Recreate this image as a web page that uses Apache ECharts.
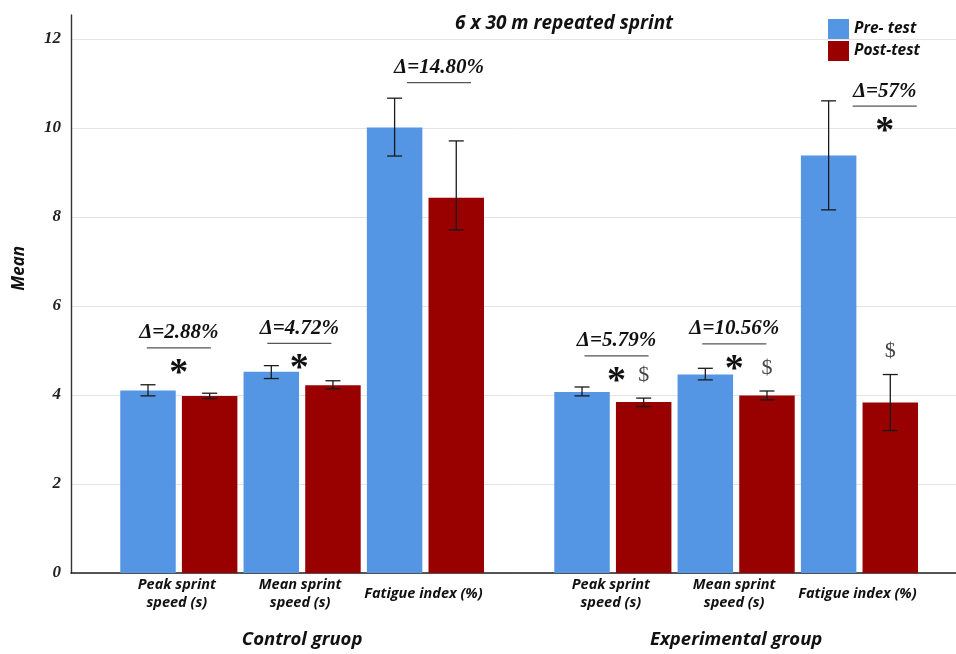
<!DOCTYPE html>
<html><head><meta charset="utf-8">
<script src="https://cdn.jsdelivr.net/npm/echarts@6/dist/echarts.min.js"></script>
<style>html,body{margin:0;padding:0;background:#fff}#c{width:956px;height:654px}</style>
</head><body><div id="c"></div>
<script>
// ---------- DATA ----------
const groups = ['Control gruop', 'Experimental group'];
const measures = ['Peak sprint\nspeed (s)', 'Mean sprint\nspeed (s)', 'Fatigue index (%)'];
const seriesNames = ['Pre- test', 'Post-test'];
const preMean  = [4.10, 4.52, 10.01, 4.07, 4.46, 9.38];
const preLow   = [3.98, 4.37, 9.37, 3.98, 4.34, 8.16];
const preHigh  = [4.23, 4.66, 10.67, 4.18, 4.60, 10.61];
const postMean = [3.98, 4.22, 8.43, 3.84, 3.99, 3.83];
const postLow  = [3.92, 4.14, 7.71, 3.74, 3.89, 3.20];
const postHigh = [4.04, 4.32, 9.71, 3.93, 4.09, 4.46];
const deltaLabels = ['Δ=2.88%', 'Δ=4.72%', 'Δ=14.80%', 'Δ=5.79%', 'Δ=10.56%', 'Δ=57%'];
const starMarks   = [true, true, false, true, true, true];
const dollarMarks = [false, false, false, true, true, true];
const yTickStep = 2;
const yTickMax = 12;
const titleText = '6 x 30 m repeated sprint';
const yAxisTitle = 'Mean';

// ---------- LAYOUT ----------
const EXP_START = 7.04;
const BAR_W = 0.9;
const X_MIN = -1.249, X_MAX = 13.106;
const ANN_XOFF = [0, -0.045, 0.22, 0.06, -0.03, 0.41];
const ANN_LEVEL = [5.06, 5.16, 11.02, 4.88, 5.15, 10.49];
const BLUE = '#5596E4', RED = '#990000';
const SANS = '"Open Sans", sans-serif';
const SERIF = '"Liberation Serif", serif';

function preSlot(i){ return i < 3 ? 2*i : EXP_START + 2*(i-3); }
function postSlot(i){ return preSlot(i) + 1; }
function pairCenter(i){ return preSlot(i) + 0.5; }

const chart = echarts.init(document.getElementById('c'));

function barSeries(name, values, slotFn, color) {
  return {
    type: 'custom', name: name,
    itemStyle: { color: color },
    data: values.map((v, i) => [slotFn(i), v]),
    encode: { x: 0, y: 1 },
    renderItem: function (params, api) {
      const x = api.value(0), v = api.value(1);
      const p0 = api.coord([x - BAR_W/2, v]);
      const p1 = api.coord([x + BAR_W/2, 0]);
      return { type: 'rect',
        shape: { x: p0[0], y: p0[1], width: p1[0]-p0[0], height: p1[1]-p0[1] },
        style: { fill: color } };
    }
  };
}

function errSeries(lows, highs, slotFn) {
  return {
    type: 'custom', silent: true, legendHoverLink: false,
    data: lows.map((l, i) => [slotFn(i), l, highs[i]]),
    encode: { x: 0, y: [1, 2] },
    renderItem: function (params, api) {
      const x = api.value(0);
      const lo = api.coord([x, api.value(1)]);
      const hi = api.coord([x, api.value(2)]);
      const cw = 7.5;
      const st = { stroke: '#1a1a1a', lineWidth: 1.3 };
      return { type: 'group', children: [
        { type: 'line', shape: { x1: lo[0], y1: lo[1], x2: hi[0], y2: hi[1] }, style: st },
        { type: 'line', shape: { x1: hi[0]-cw, y1: hi[1], x2: hi[0]+cw, y2: hi[1] }, style: st },
        { type: 'line', shape: { x1: lo[0]-cw, y1: lo[1], x2: lo[0]+cw, y2: lo[1] }, style: st }
      ]};
    }
  };
}

const annSeries = {
  type: 'custom', silent: true,
  data: deltaLabels.map((d, i) => [pairCenter(i) + ANN_XOFF[i], ANN_LEVEL[i], postSlot(i), postHigh[i], pairCenter(i)]),
  encode: { x: 0, y: 1 },
  renderItem: function (params, api) {
    const i = params.dataIndex;
    const p = api.coord([api.value(0), api.value(1)]);
    const half = (api.size([1.04, 0])[0]) / 2;
    const ch = [];
    ch.push({ type: 'text', style: { text: deltaLabels[i], x: p[0], y: p[1] - 15,
      align: 'center', verticalAlign: 'middle', fill: '#111',
      font: 'italic bold 21px ' + SERIF } });
    ch.push({ type: 'line', shape: { x1: p[0]-half, y1: p[1], x2: p[0]+half, y2: p[1] },
      style: { stroke: '#555', lineWidth: 1.2 } });
    if (starMarks[i]) {
      ch.push({ type: 'text', style: { text: '*', x: p[0], y: p[1] + 26,
        align: 'center', verticalAlign: 'middle', fill: '#111',
        font: 'bold 38px ' + SERIF } });
    }
    if (dollarMarks[i]) {
      const q = api.coord([api.value(2), api.value(3)]);
      ch.push({ type: 'text', style: { text: '$', x: q[0], y: q[1] - 23,
        align: 'center', verticalAlign: 'middle', fill: '#444',
        font: '22px ' + SERIF } });
    }
    // category label
    const base = api.coord([api.value(4), 0]);
    ch.push({ type: 'text', style: { text: measures[i % 3], x: base[0] - 2, y: base[1] + 21,
      align: 'center', verticalAlign: 'middle', fill: '#111', lineHeight: 18,
      font: 'italic bold 14.5px ' + SANS } });
    if (i % 3 === 1) {
      ch.push({ type: 'text', style: { text: groups[Math.floor(i / 3)], x: base[0], y: base[1] + 67,
        align: 'center', verticalAlign: 'middle', fill: '#111',
        font: 'italic bold 18.5px ' + SANS } });
    }
    return { type: 'group', children: ch };
  }
};

const option = {
  animation: false,
  backgroundColor: '#fff',
  title: { text: titleText, left: 559, top: 9, textAlign: 'center',
    textStyle: { fontFamily: SANS, fontStyle: 'italic', fontWeight: 'bold', fontSize: 19, color: '#111' } },
  legend: {
    data: seriesNames, orient: 'vertical', left: 828, top: 19, padding: 0, itemWidth: 21, itemHeight: 20, itemGap: 2,
    icon: 'rect',
    textStyle: { fontFamily: SANS, fontStyle: 'italic', fontWeight: 'bold', fontSize: 15.5, color: '#111' }
  },
  graphic: [{ type: 'text', left: 11, top: 246, rotation: Math.PI/2,
    style: { text: yAxisTitle, font: 'italic bold 17px ' + SANS, fill: '#111' } }],
  grid: { left: 71, right: 0, top: 15, bottom: 81 },
  xAxis: { type: 'value', min: X_MIN, max: X_MAX, show: true,
    axisLine: { show: true, onZero: false, lineStyle: { color: '#222', width: 1.6 } },
    axisTick: { show: false }, axisLabel: { show: false }, splitLine: { show: false } },
  yAxis: { type: 'value', min: 0, max: (573 - 15) / ((573 - 39) / yTickMax), interval: yTickStep,
    axisLine: { show: true, onZero: false, lineStyle: { color: '#333', width: 1.4 } },
    axisTick: { show: false },
    axisLabel: { margin: 10, formatter: v => (v % yTickStep === 0 && v <= yTickMax ? String(v) : ''),
      fontFamily: SERIF, fontStyle: 'italic', fontWeight: 'bold', fontSize: 17, color: '#222' },
    splitLine: { show: true, showMaxLine: false, lineStyle: { color: '#e4e4e4', width: 1 } } },
  series: [
    barSeries(seriesNames[0], preMean, preSlot, BLUE),
    barSeries(seriesNames[1], postMean, postSlot, RED),
    errSeries(preLow, preHigh, preSlot),
    errSeries(postLow, postHigh, postSlot),
    annSeries
  ]
};
chart.setOption(option);
</script></body></html>
